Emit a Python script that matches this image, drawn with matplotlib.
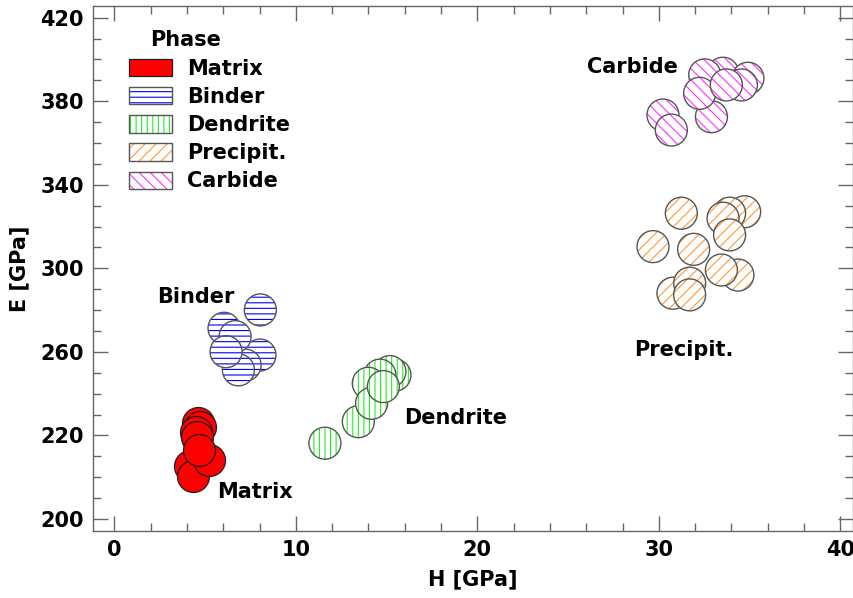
import matplotlib
matplotlib.use("Agg")
import matplotlib.pyplot as plt
from matplotlib.patches import Patch
from matplotlib.legend_handler import HandlerTuple
from matplotlib.ticker import MultipleLocator

plt.rcParams['font.family'] = ['DejaVu Sans']
plt.rcParams['font.weight'] = 'bold'
plt.rcParams['hatch.linewidth'] = 0.8

FS = 15

# nanoindentation results per phase: hardness H and modulus E (GPa)
matrix_H = [4.61, 4.72, 4.50, 4.55, 4.17, 4.33, 5.21, 4.66]
matrix_E = [226.0, 224.1, 221.7, 219.3, 205.4, 200.6, 208.3, 213.1]

binder_H = [8.04, 6.04, 8.02, 7.20, 6.83, 6.65, 6.15]
binder_E = [280.1, 271.3, 258.5, 253.7, 251.4, 267.3, 260.1]

dendrite_H = [11.6, 13.44, 15.46, 15.18, 14.63, 13.99, 14.17, 14.82]
dendrite_E = [216.3, 226.6, 248.9, 250.6, 248.9, 245.0, 235.4, 243.4]

precip_H = [29.68, 31.24, 31.92, 34.73, 33.90, 33.54, 33.90, 34.36, 33.45, 30.78, 31.70, 31.70]
precip_E = [310.4, 326.4, 309.1, 327.1, 326.4, 324.0, 316.0, 296.8, 299.2, 288.1, 292.9, 287.3]

carbide_H = [30.23, 30.69, 32.90, 33.53, 34.91, 34.55, 32.53, 32.25, 33.72]
carbide_E = [373.4, 366.2, 372.6, 393.4, 391.0, 387.8, 392.6, 383.8, 387.8]

phases = ['Matrix', 'Binder', 'Dendrite', 'Precipit.', 'Carbide']
label_pos = {'Matrix': (7.75, 193.0), 'Binder': (4.5, 286.3),
             'Dendrite': (18.81, 228.4), 'Precipit.': (31.36, 260.8),
             'Carbide': (28.56, 396.4)}

yticks = [180, 220, 260, 300, 340, 380, 420]
ytick_labels = ['200', '220', '260', '300', '340', '380', '420']
xticks = [0, 10, 20, 30, 40]

data = {'Matrix': (matrix_H, matrix_E), 'Binder': (binder_H, binder_E),
        'Dendrite': (dendrite_H, dendrite_E), 'Precipit.': (precip_H, precip_E),
        'Carbide': (carbide_H, carbide_E)}
# fill, hatch colour, hatch pattern, outline
style = {'Matrix': ('red', 'red', None, '#202020'),
         'Binder': ('white', '#0000ff', '---', '#555555'),
         'Dendrite': ('white', '#22ee22', '|||', '#555555'),
         'Precipit.': ('white', '#ff9933', '///', '#555555'),
         'Carbide': ('white', '#ff33ff', '\\\\\\', '#555555')}

fig = plt.figure(figsize=(8.54, 5.98), dpi=100)
ax = fig.add_axes([0.1085, 0.1125, 0.8903, 0.8775])

S = 530
z = 2
for ph in phases:
    fill, hc, hatch, edge = style[ph]
    for h, e in zip(*data[ph]):
        if hatch is None:
            ax.scatter([h], [e], s=S, marker='o', facecolors=fill,
                       edgecolors=edge, linewidths=0.9, zorder=z)
        else:
            ax.scatter([h], [e], s=S, marker='o', facecolors=fill,
                       edgecolors=hc, linewidths=0, hatch=hatch, zorder=z)
            ax.scatter([h], [e], s=S, marker='o', facecolors='none',
                       edgecolors=edge, linewidths=1.0, zorder=z + 0.5)
        z += 1
    ax.text(*label_pos[ph], ph, ha='center', va='center',
            fontsize=FS, fontweight='bold', zorder=200)

handles = []
for ph in phases:
    fill, hc, hatch, edge = style[ph]
    if hatch is None:
        handles.append(Patch(facecolor=fill, edgecolor=edge, linewidth=0.9))
    else:
        handles.append((Patch(facecolor=fill, edgecolor=hc, linewidth=0, hatch=hatch),
                        Patch(facecolor='none', edgecolor=edge, linewidth=1.0)))
leg = ax.legend(handles, phases, loc='upper left',
                bbox_to_anchor=(0.029, 0.927), frameon=False,
                handler_map={tuple: HandlerTuple(ndivide=1)},
                prop={'size': FS, 'weight': 'bold'},
                handlelength=2.07, handleheight=0.9, handletextpad=0.7,
                labelspacing=0.39, borderpad=0.2)
# legend heading
ax.text(0.1228, 0.935, 'Phase', transform=ax.transAxes, ha='center',
        va='center', fontsize=FS, fontweight='bold')

ax.set_xlim(-1.2, 40.7)
ax.set_ylim(174.4, 425.6)
ax.set_xticks(xticks)
ax.xaxis.set_minor_locator(MultipleLocator(2))
ax.set_yticks(yticks)
ax.set_yticklabels(ytick_labels)
ax.yaxis.set_minor_locator(MultipleLocator(10))

ax.tick_params(which='both', direction='in', top=True, right=True,
               colors='#666666', labelcolor='black', labelsize=FS)
ax.tick_params(which='major', length=11, width=1, pad=6.5)
ax.tick_params(which='minor', length=5.8, width=1)
for lab in ax.get_xticklabels() + ax.get_yticklabels():
    lab.set_fontweight('bold')
for sp in ax.spines.values():
    sp.set_color('#666666')
    sp.set_linewidth(1)

ax.set_xlabel('H [GPa]', fontsize=FS, fontweight='bold', labelpad=7)
ax.set_ylabel('E [GPa]', fontsize=FS, fontweight='bold', labelpad=8)

fig.savefig('out.png', dpi=100)
